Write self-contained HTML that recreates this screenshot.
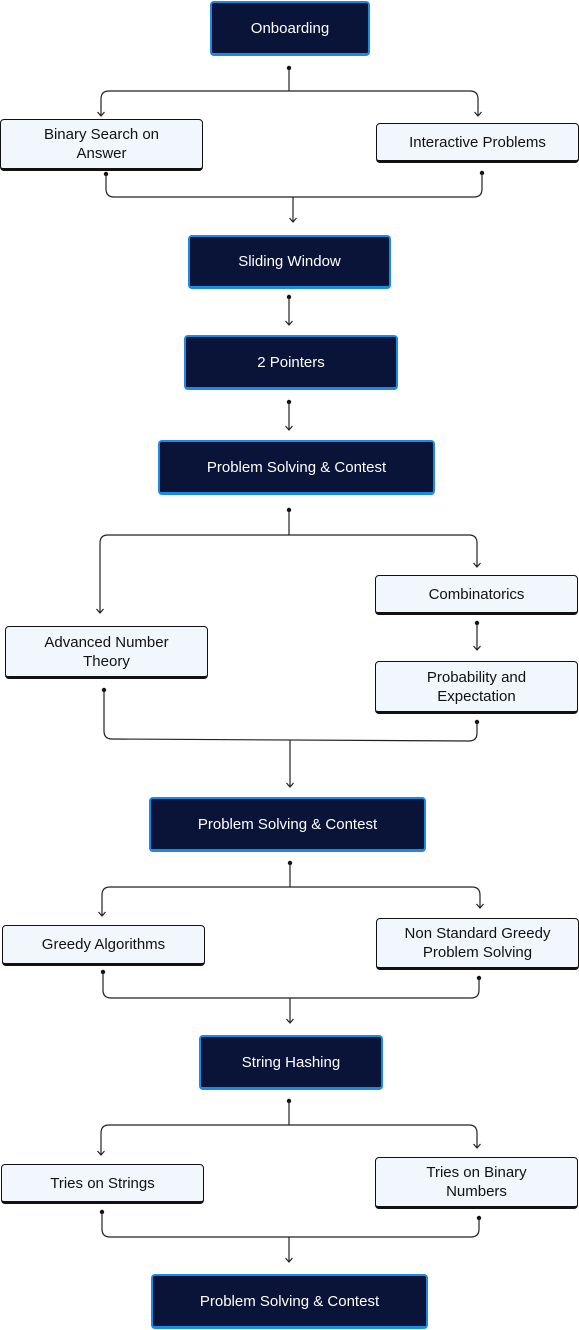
<!DOCTYPE html>
<html><head><style>
body{margin:0;width:579px;height:1330px;background:#fff;position:relative;font-family:"Liberation Sans",sans-serif;overflow:hidden}
.n{position:absolute;box-sizing:border-box;display:flex;align-items:center;justify-content:center;text-align:center;font-size:15px;line-height:19px;border-radius:4px}
.d{background:#0a1338;color:#fff;border:2px solid #1e88e5;border-bottom-width:3px}
.l{background:#f2f6fd;color:#111;border:1.5px solid #111;border-bottom-width:3.5px}
svg{position:absolute;left:0;top:0}
</style></head><body>
<svg width="579" height="1330" fill="none" stroke="#222" stroke-width="1.2">
<defs><marker id="a" markerWidth="10" markerHeight="10" refX="7" refY="5" orient="auto" markerUnits="userSpaceOnUse"><path d="M3,1.5 L7,5 L3,8.5" stroke="#222" stroke-width="1.2" fill="none"/></marker></defs>
<g fill="#111" stroke="none">
<circle cx="289" cy="68" r="2.2"/><circle cx="106" cy="174" r="2.2"/><circle cx="482" cy="173" r="2.2"/>
<circle cx="289" cy="297" r="2.2"/><circle cx="289" cy="402" r="2.2"/><circle cx="289" cy="510" r="2.2"/>
<circle cx="477" cy="623" r="2.2"/><circle cx="104" cy="690" r="2.2"/><circle cx="477" cy="722" r="2.2"/>
<circle cx="290" cy="863" r="2.2"/><circle cx="103" cy="972" r="2.2"/><circle cx="479" cy="978" r="2.2"/>
<circle cx="289" cy="1101" r="2.2"/><circle cx="102" cy="1212" r="2.2"/><circle cx="479" cy="1218" r="2.2"/>
</g>
<path d="M289,68 V91 M101,99 Q101,91 109,91 H470 Q478,91 478,99"/>
<path d="M101,99 V116" marker-end="url(#a)"/><path d="M478,99 V116" marker-end="url(#a)"/>
<path d="M106,174 V189 Q106,197 114,197 H474 Q482,197 482,189 V173"/>
<path d="M293,197 V222" marker-end="url(#a)"/>
<path d="M289,297 V325" marker-end="url(#a)"/>
<path d="M289,402 V430" marker-end="url(#a)"/>
<path d="M289,510 V535 M108,535 H469 Q477,535 477,543 M100,543 Q100,535 108,535"/>
<path d="M100,543 V613" marker-end="url(#a)"/><path d="M477,543 V567" marker-end="url(#a)"/>
<path d="M477,623 V650" marker-end="url(#a)"/>
<path d="M104,690 V731 Q104,739 112,739 L469,741 Q477,741 477,733 V722"/>
<path d="M290,740 V787" marker-end="url(#a)"/>
<path d="M290,863 V887 M110,887 H472 Q480,887 480,895"/><path d="M480,895 V908" marker-end="url(#a)"/>
<path d="M102,895 Q102,887 110,887"/><path d="M102,895 V916" marker-end="url(#a)"/>
<path d="M103,972 V990 Q103,998 111,998 H471 Q479,998 479,990 V978"/>
<path d="M290,998 V1023" marker-end="url(#a)"/>
<path d="M289,1101 V1125 M109,1125 H469 Q477,1125 477,1133 M101,1133 Q101,1125 109,1125"/>
<path d="M101,1133 V1155" marker-end="url(#a)"/><path d="M477,1133 V1148" marker-end="url(#a)"/>
<path d="M102,1212 V1229 Q102,1237 110,1237 H471 Q479,1237 479,1229 V1218"/>
<path d="M289,1237 V1262" marker-end="url(#a)"/>
</svg>
<div class="n d" style="left:210px;top:1px;width:160px;height:55px">Onboarding</div>
<div class="n l" style="left:0;top:119px;width:203px;height:52px">Binary Search on<br>Answer</div>
<div class="n l" style="left:376px;top:123px;width:203px;height:40px">Interactive Problems</div>
<div class="n d" style="left:188px;top:235px;width:203px;height:54px">Sliding Window</div>
<div class="n d" style="left:184px;top:335px;width:214px;height:55px">2 Pointers</div>
<div class="n d" style="left:158px;top:440px;width:277px;height:55px">Problem Solving &amp; Contest</div>
<div class="n l" style="left:375px;top:575px;width:203px;height:40px">Combinatorics</div>
<div class="n l" style="left:5px;top:626px;width:203px;height:53px">Advanced Number<br>Theory</div>
<div class="n l" style="left:375px;top:661px;width:203px;height:53px">Probability and<br>Expectation</div>
<div class="n d" style="left:149px;top:797px;width:277px;height:55px">Problem Solving &amp; Contest</div>
<div class="n l" style="left:2px;top:925px;width:203px;height:41px">Greedy Algorithms</div>
<div class="n l" style="left:376px;top:918px;width:203px;height:52px">Non Standard Greedy<br>Problem Solving</div>
<div class="n d" style="left:199px;top:1035px;width:184px;height:55px">String Hashing</div>
<div class="n l" style="left:1px;top:1164px;width:203px;height:40px">Tries on Strings</div>
<div class="n l" style="left:375px;top:1157px;width:203px;height:52px">Tries on Binary<br>Numbers</div>
<div class="n d" style="left:151px;top:1274px;width:277px;height:55px">Problem Solving &amp; Contest</div>
</body></html>
